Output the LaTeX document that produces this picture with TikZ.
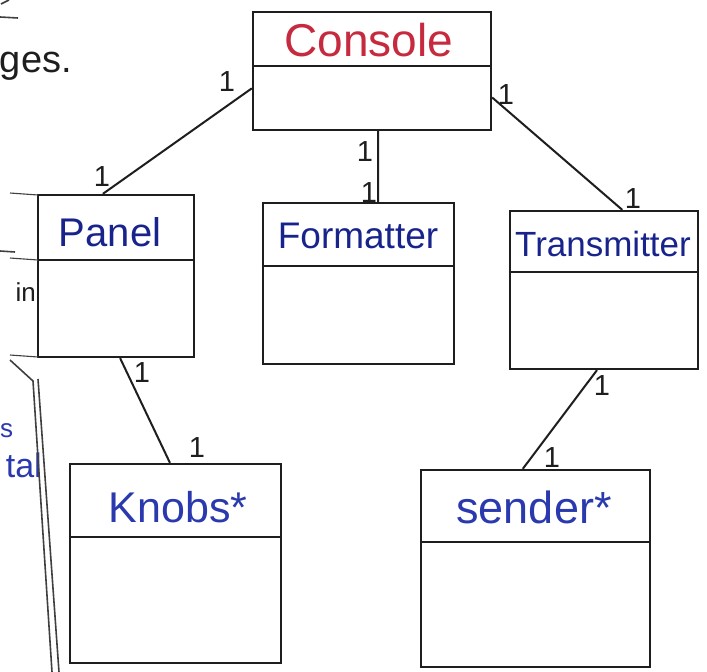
\documentclass[tikz,border=0pt]{standalone}
\usepackage{fontspec}
\setmainfont{Liberation Sans}
\usetikzlibrary{calc}
\definecolor{ink}{HTML}{1E1E1E}
\definecolor{redink}{HTML}{C62A3E}
\definecolor{navyink}{HTML}{18248C}
\definecolor{blueink}{HTML}{2A3AAE}
\newcommand{\fs}[1]{\fontsize{#1}{#1}\selectfont}
\tikzset{
  classbox/.style={draw=ink, line width=2.3pt, inner sep=0pt, fill=none},
  divider/.style={draw=ink, line width=2.1pt},
  conn/.style={draw=ink, line width=2pt},
  classname/.style={inner sep=0pt},
  mult/.style={inner sep=0pt, text=ink, font=\fs{29}},
  scribble/.style={draw=ink!85, line width=1.6pt},
}
\begin{document}
\begin{tikzpicture}[x=1pt,y=-1pt]
\useasboundingbox (0,0) rectangle (707,672);
\fill[white] (0,0) rectangle (707,672);

% class boxes
\node[classbox, minimum width=238pt, minimum height=118pt] (console) at (372,71) {};
\node[classbox, minimum width=156pt, minimum height=162pt] (panel) at (116,276) {};
\node[classbox, minimum width=191pt, minimum height=161pt] (formatter) at (358.5,283.5) {};
\node[classbox, minimum width=188pt, minimum height=158pt] (transmitter) at (604,290) {};
\node[classbox, minimum width=211pt, minimum height=199pt] (knobs) at (175.5,563.5) {};
\node[classbox, minimum width=229pt, minimum height=197pt] (sender) at (535.5,568.5) {};

% name / body dividers
\draw[divider] ($(console.north west)+(0,55)$) -- ($(console.north east)+(0,55)$);
\draw[divider] ($(panel.north west)+(0,66)$) -- ($(panel.north east)+(0,66)$);
\draw[divider] ($(formatter.north west)+(0,64)$) -- ($(formatter.north east)+(0,64)$);
\draw[divider] ($(transmitter.north west)+(0,62)$) -- ($(transmitter.north east)+(0,62)$);
\draw[divider] ($(knobs.north west)+(0,74)$) -- ($(knobs.north east)+(0,74)$);
\draw[divider] ($(sender.north west)+(0,73)$) -- ($(sender.north east)+(0,73)$);

% class names
\node[classname, text=redink, font=\fs{46}] (consolename) at (369,40) {Console};
\node[classname, text=navyink, font=\fs{40}] (panelname) at (110,232) {Panel};
\node[classname, text=navyink, font=\fs{37}] (formattername) at (358,236) {Formatter};
\node[classname, text=navyink, font=\fs{35}] (transmittername) at (603,244) {Transmitter};
\node[classname, text=blueink, font=\fs{43}] (knobsname) at (178,507) {Knobs*};
\node[classname, text=blueink, font=\fs{45}] (sendername) at (534,507) {sender*};

% associations
\draw[conn] ($(console.north west)!0.644!(console.south west)$) -- ($(panel.north west)!0.417!(panel.north east)$);
\draw[conn] ($(console.south west)!0.525!(console.south east)$) -- ($(formatter.north west)!0.602!(formatter.north east)$);
\draw[conn] ($(console.north east)!0.72!(console.south east)$) -- ($(transmitter.north west)!0.596!(transmitter.north east)$);
\draw[conn] ($(panel.south west)!0.526!(panel.south east)$) -- ($(knobs.north west)!0.474!(knobs.north east)$);
\draw[conn] ($(transmitter.south west)!0.463!(transmitter.south east)$) -- ($(sender.north west)!0.445!(sender.north east)$);

% multiplicities
\node[mult] (m1) at (227,82) {1};
\node[mult] (m2) at (102,177) {1};
\node[mult] (m3) at (365,152) {1};
\node[mult] (m4) at (369,193) {1};
\node[mult] (m5) at (506,95) {1};
\node[mult] (m6) at (633,199) {1};
\node[mult] (m7) at (142,373) {1};
\node[mult] (m8) at (197,448) {1};
\node[mult] (m9) at (602,386) {1};
\node[mult] (m10) at (552,458) {1};

% notes running off the left edge of the page
\draw[scribble] (1,4) -- (9,0);
\draw[scribble] (0,17) -- (18,18);
\node[anchor=base east, inner sep=0pt, text=ink, font=\fs{38}] (notea) at (72,72) {nges.};
\draw[scribble] (0,251) -- (15,252);
\node[anchor=base east, inner sep=0pt, text=ink, font=\fs{26}] (noteb) at (36,301) {in};
\node[anchor=base west, inner sep=0pt, text=blueink, font=\fs{26}] (notec) at (0,437) {s};
\node[anchor=base east, inner sep=0pt, text=blueink, font=\fs{34}] (noted) at (42,477) {tal};
\draw[scribble, line width=1.1pt] (10,193) -- (38,195);
\draw[scribble, line width=1.1pt] (10,258) -- (38,260);
\draw[scribble, line width=1.1pt] (10,355) -- (38,357);
\draw[scribble] (10,360) -- (33,381) -- (52,672);
\draw[scribble] (38,379) -- (59,672);
\end{tikzpicture}
\end{document}
